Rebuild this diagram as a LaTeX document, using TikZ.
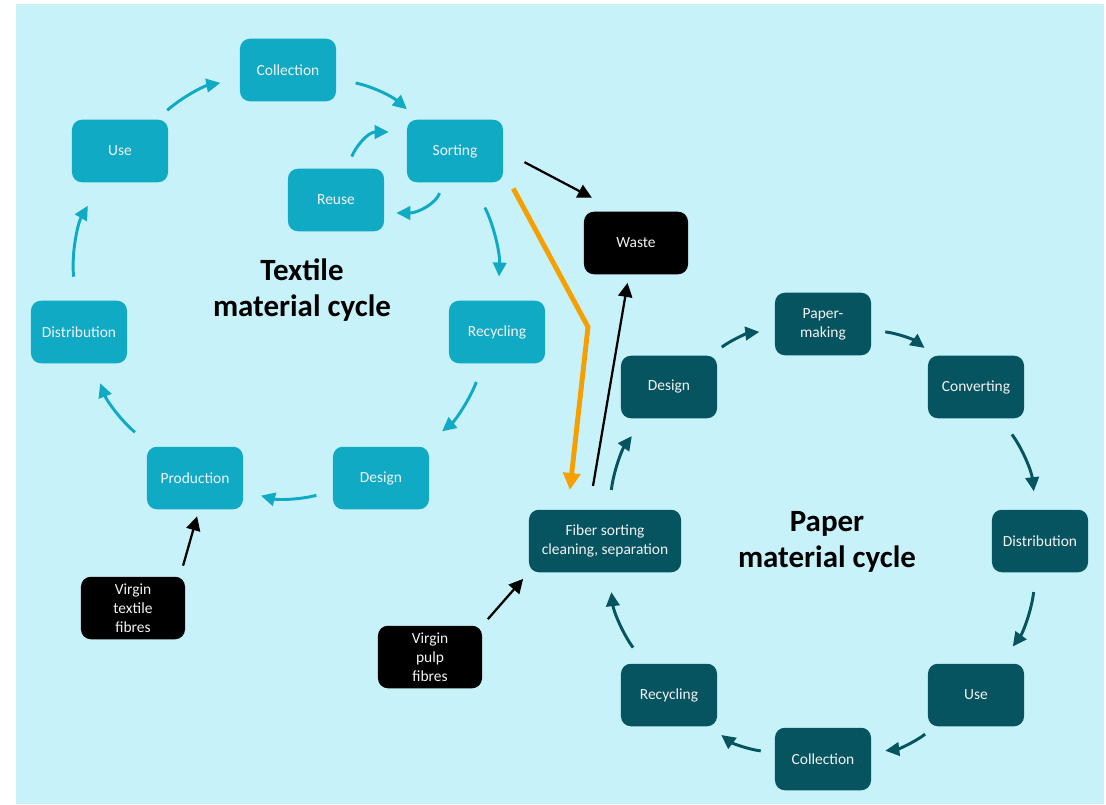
\documentclass[tikz,border=0pt]{standalone}
\usepackage{fontspec}
\setmainfont{Carlito}
\usetikzlibrary{arrows.meta,calc}
\definecolor{bgcyan}{HTML}{C8F2FA}
\definecolor{textilec}{HTML}{11AAC5}
\definecolor{paperc}{HTML}{06545F}
\definecolor{orangec}{HTML}{F5A000}
\definecolor{labelc}{HTML}{F2F2F2}
\tikzset{
  box/.style={rounded corners=7pt, minimum width=2.4cm, minimum height=1.5625cm, inner sep=2pt,
    align=center, text=labelc, font=\fontsize{11}{13.5}\selectfont},
  tbox/.style={box, fill=textilec},
  pbox/.style={box, fill=paperc},
  kbox/.style={box, fill=black, minimum width=2.6cm},
  cycletitle/.style={align=center, font=\fontsize{22}{25.5}\selectfont\bfseries},
  tarrow/.style={draw=textilec, line width=2.1pt, -{Triangle[length=10pt,width=9.5pt]}},
  parrow/.style={draw=paperc, line width=2.1pt, -{Triangle[length=10pt,width=9.5pt]}},
  karrow/.style={draw=black, line width=1.6pt, -{Triangle[length=10pt,width=10pt]}},
  oarrow/.style={draw=orangec, line width=3.5pt, -{Triangle[length=12pt,width=12pt]}},
}
\begin{document}
\begin{tikzpicture}[x=0.025cm, y=-0.025cm]
  \useasboundingbox (0, 0) rectangle (1106, 804);
  \fill [bgcyan] (16, 4) rectangle (1104, 804);

  \node [tbox] (collection) at (288, 70) {Collection};
  \node [tbox] (use) at (120, 151) {Use};
  \node [tbox] (sorting) at (455, 151) {Sorting};
  \node [tbox] (reuse) at (336, 200) {Reuse};
  \node [tbox] (recycling) at (497, 332) {Recycling};
  \node [tbox] (tdesign) at (381, 478) {Design};
  \node [tbox] (production) at (195, 478) {Production};
  \node [tbox] (distribution) at (79, 332) {Distribution};
  \node [kbox] (vtextile) at (133, 608) {Virgin\\textile\\fibres};
  \node [kbox] (waste) at (636, 243) {Waste};
  \node [cycletitle] (ttitle) at (302, 290) {Textile\\material cycle};

  \node [pbox] (pdesign) at (669, 387) {Design};
  \node [pbox] (papermaking) at (823, 324) {Paper-\\making};
  \node [pbox] (converting) at (976, 387) {Converting};
  \node [pbox] (pdistrib) at (1040, 541) {Distribution};
  \node [pbox] (puse) at (976, 695) {Use};
  \node [pbox] (pcollection) at (823, 759) {Collection};
  \node [pbox] (precycling) at (669, 695) {Recycling};
  \node [pbox, minimum width=3.8cm] (fiber) at (605, 541) {Fiber sorting\\cleaning, separation};
  \node [kbox] (vpulp) at (430, 657) {Virgin\\pulp\\fibres};
  \node [cycletitle] (ptitle) at (827, 542) {Paper\\material cycle};

  \draw [tarrow, shorten <=10pt, shorten >=14pt] (use) to[bend left=15] (collection);
  \draw [tarrow, shorten <=14pt, shorten >=11pt] (collection) to[bend left=15] (sorting);
  \draw [tarrow, shorten <=20pt, shorten >=17pt] (sorting) to[bend left=15] (recycling);
  \draw [tarrow, shorten <=14pt, shorten >=17pt] (recycling) to[bend left=15] (tdesign);
  \draw [tarrow, shorten <=12pt, shorten >=13pt] (tdesign) to[bend left=15] (production);
  \draw [tarrow, shorten <=16pt, shorten >=15pt] (production) to[bend left=15] (distribution);
  \draw [tarrow, shorten <=17pt, shorten >=19pt] (distribution) to[bend left=18] (use);
  \draw [tarrow, shorten <=8pt] (sorting) to[out=-110, in=0] ($(reuse.east)+(12,13)$);
  \draw [tarrow, shorten <=9pt] (reuse) to[out=70, in=180] ($(sorting.west)+(-18,-19)$);

  \draw [parrow, shorten <=10pt, shorten >=11pt] (pdesign) to[bend left=15] (papermaking);
  \draw [parrow, shorten <=10pt, shorten >=9pt] (papermaking) to[bend left=15] (converting);
  \draw [parrow, shorten <=14pt, shorten >=13pt] (converting) to[bend left=15] (pdistrib);
  \draw [parrow, shorten <=14pt, shorten >=15pt] (pdistrib) to[bend left=15] (puse);
  \draw [parrow, shorten <=9pt, shorten >=10pt] (puse) to[bend left=15] (pcollection);
  \draw [parrow, shorten <=10pt, shorten >=10pt] (pcollection) to[bend left=15] (precycling);
  \draw [parrow, shorten <=14pt, shorten >=14pt] (precycling) to[bend left=15] (fiber);
  \draw [parrow, shorten <=14pt, shorten >=15.5pt] (fiber) to[bend left=15] (pdesign);

  \draw [karrow, shorten <=17pt, shorten >=21pt] (sorting.east) -- ($(waste.north)+(-18,0)$);
  \draw [karrow, shorten <=17pt, shorten >=6pt] ($(fiber.north)+(-16,0)$) -- ($(waste.south)+(-7,0)$);
  \draw [karrow, shorten <=8pt, shorten >=5pt] ($(vtextile.north)+(47,0)$) -- ($(production.south)+(4,0)$);
  \draw [karrow, shorten <=6pt, shorten >=6pt] (vpulp.north east) -- (fiber.south west);

  \coordinate (obend) at (588, 327);
  \draw [oarrow, shorten >=14pt] ($(sorting.south east)+(10,6)$) -- (obend) -- ($(fiber.north west)+(39,0)$);
\end{tikzpicture}
\end{document}
